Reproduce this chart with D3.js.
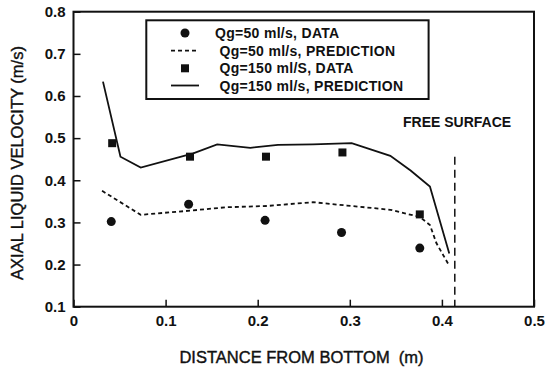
<!DOCTYPE html>
<html><head><meta charset="utf-8">
<script src="https://cdn.jsdelivr.net/npm/d3@7"></script>
<style>body{margin:0;background:#fff}svg{display:block}text{font-family:"Liberation Sans",Arial,sans-serif;fill:#111;white-space:pre}</style>
</head><body>
<svg id="c" width="545" height="368"></svg>
<script>
// data
const data50X = [0.041, 0.125, 0.208, 0.291, 0.376];
const data50Y = [0.302, 0.343, 0.305, 0.276, 0.239];
const data150X = [0.042, 0.1265, 0.209, 0.292, 0.376];
const data150Y = [0.488, 0.456, 0.456, 0.466, 0.319];
const pred150X = [0.032, 0.051, 0.073, 0.130, 0.156, 0.192, 0.222, 0.260, 0.302, 0.344, 0.366, 0.387, 0.408];
const pred150Y = [0.634, 0.456, 0.430, 0.464, 0.485, 0.477, 0.484, 0.485, 0.488, 0.458, 0.423, 0.385, 0.226];
const pred50X = [0.031, 0.073, 0.127, 0.166, 0.210, 0.260, 0.297, 0.344, 0.376, 0.387, 0.394, 0.407];
const pred50Y = [0.375, 0.318, 0.328, 0.336, 0.339, 0.348, 0.340, 0.330, 0.313, 0.294, 0.251, 0.201];
const freeSurfaceX = 0.414;
const freeSurfaceTop = 0.456;
const xTicks = [0, 0.1, 0.2, 0.3, 0.4, 0.5];
const yTicks = [0.1, 0.2, 0.3, 0.4, 0.5, 0.6, 0.7, 0.8];
const legendLabels = ["Qg=50 ml/s, DATA", "Qg=50 ml/s, PREDICTION", "Qg=150 ml/S, DATA", "Qg=150 ml/s, PREDICTION"];
const xTitle = "DISTANCE FROM BOTTOM  (m)";
const yTitle = "AXIAL LIQUID VELOCITY (m/s)";
const freeLabel = "FREE SURFACE";

const svg = d3.select("#c");
const L = 73.5, T = 11.7, R = 534, B = 306.7;
const x = d3.scaleLinear().domain([0, 0.5]).range([L, R]);
const y = d3.scaleLinear().domain([0.1, 0.8]).range([B, T]);
const fmt = d => d === 0 ? "0" : d3.format(".1f")(d);

// axes
const gx = svg.append("g").attr("transform", `translate(0,${B})`)
  .call(d3.axisBottom(x).tickValues(xTicks).tickFormat(fmt).tickSize(-7).tickPadding(9));
const gy = svg.append("g").attr("transform", `translate(${L},0)`)
  .call(d3.axisLeft(y).tickValues(yTicks).tickFormat(fmt).tickSize(-7).tickPadding(8));
[gx, gy].forEach(g => {
  g.select(".domain").remove();
  g.selectAll(".tick line").attr("stroke", "#111").attr("stroke-width", 1.5);
  g.selectAll(".tick text").attr("font-size", 15).attr("font-weight", "bold").attr("fill", "#111")
    .style("font-family", '"Liberation Sans",Arial,sans-serif');
});
svg.append("rect").attr("x", L).attr("y", T).attr("width", R - L).attr("height", B - T)
  .attr("fill", "none").attr("stroke", "#111").attr("stroke-width", 2);

// titles
svg.append("text").attr("x", 301.5).attr("y", 363).attr("text-anchor", "middle")
  .attr("font-size", 16.5).attr("stroke", "#111").attr("stroke-width", 0.4).text(xTitle);
svg.append("text").attr("transform", `translate(23,${163}) rotate(-90)`).attr("text-anchor", "middle")
  .attr("font-size", 16.5).attr("stroke", "#111").attr("stroke-width", 0.4).text(yTitle);

// lines
const line = d3.line().x(d => x(d[0])).y(d => y(d[1]));
svg.append("path").datum(d3.zip(pred150X, pred150Y)).attr("d", line)
  .attr("fill", "none").attr("stroke", "#111").attr("stroke-width", 1.8);
svg.append("path").datum(d3.zip(pred50X, pred50Y)).attr("d", line)
  .attr("fill", "none").attr("stroke", "#111").attr("stroke-width", 1.8).attr("stroke-dasharray", "4,3");

// free surface
svg.append("line").attr("x1", x(freeSurfaceX)).attr("x2", x(freeSurfaceX))
  .attr("y1", y(freeSurfaceTop)).attr("y2", y(0.1))
  .attr("stroke", "#111").attr("stroke-width", 1.5).attr("stroke-dasharray", "8,5");
svg.append("text").attr("x", 403).attr("y", 126.5).attr("font-size", 14).attr("font-weight", "bold")
  .text(freeLabel);

// markers
svg.append("g").selectAll("circle").data(d3.zip(data50X, data50Y)).join("circle")
  .attr("cx", d => x(d[0])).attr("cy", d => y(d[1])).attr("r", 4.5).attr("fill", "#111");
svg.append("g").selectAll("rect").data(d3.zip(data150X, data150Y)).join("rect")
  .attr("x", d => x(d[0]) - 4).attr("y", d => y(d[1]) - 4).attr("width", 8).attr("height", 8).attr("fill", "#111");

// legend
const lg = svg.append("g");
lg.append("rect").attr("x", 146.3).attr("y", 20.3).attr("width", 282.3).attr("height", 78.7)
  .attr("fill", "#fff").attr("stroke", "#111").attr("stroke-width", 2);
const rowY = [33, 50.6, 68.3, 85.5];
const sx = 185;
lg.append("circle").attr("cx", sx).attr("cy", rowY[0]).attr("r", 4.5).attr("fill", "#111");
lg.append("line").attr("x1", sx - 14).attr("x2", sx + 14).attr("y1", rowY[1]).attr("y2", rowY[1])
  .attr("stroke", "#111").attr("stroke-width", 1.8).attr("stroke-dasharray", "4,3");
lg.append("rect").attr("x", sx - 4).attr("y", rowY[2] - 4).attr("width", 8).attr("height", 8).attr("fill", "#111");
lg.append("line").attr("x1", sx - 14).attr("x2", sx + 14).attr("y1", rowY[3]).attr("y2", rowY[3])
  .attr("stroke", "#111").attr("stroke-width", 1.8);
lg.selectAll("text.lt").data(legendLabels).join("text").attr("class", "lt")
  .attr("x", (d, i) => i === 0 ? 215 : 219.5).attr("y", (d, i) => rowY[i] + 5)
  .attr("font-size", 14).attr("font-weight", "bold").attr("letter-spacing", 0.3).text(d => d);
</script>
</body></html>
